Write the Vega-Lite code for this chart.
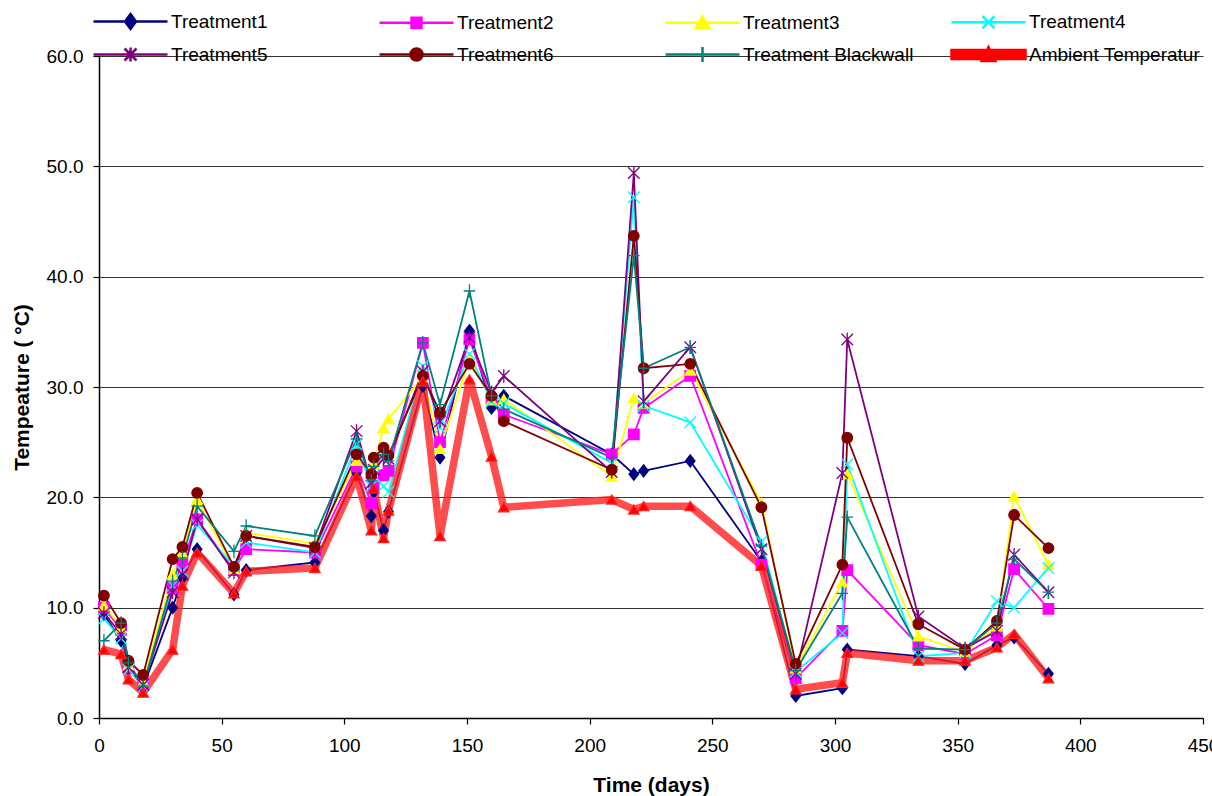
{
"$schema": "https://vega.github.io/schema/vega-lite/v6.json",
"width": 1104, "height": 662,
"autosize": {"type": "none"},
"padding": {"left": 99, "top": 56, "right": 9, "bottom": 78},
"background": "white",
"config": {
  "font": "Liberation Sans",
  "view": {"stroke": null},
  "axis": {"labelFont": "Liberation Sans", "titleFont": "Liberation Sans", "labelFontSize": 19, "titleFontSize": 21, "titleFontWeight": "bold", "labelColor": "#000", "titleColor": "#000", "domainColor": "#000", "tickColor": "#000", "domainWidth": 1.5, "tickSize": 6, "tickWidth": 1.2}
},
"data": {"values": [
{"day":2,"series":"Treatment1","temp":9.4},{"day":9,"series":"Treatment1","temp":7.0},{"day":12,"series":"Treatment1","temp":4.5},{"day":18,"series":"Treatment1","temp":2.8},{"day":30,"series":"Treatment1","temp":10.0},{"day":34,"series":"Treatment1","temp":12.7},{"day":40,"series":"Treatment1","temp":15.3},{"day":55,"series":"Treatment1","temp":11.2},{"day":60,"series":"Treatment1","temp":13.4},{"day":88,"series":"Treatment1","temp":14.1},{"day":105,"series":"Treatment1","temp":22.2},{"day":111,"series":"Treatment1","temp":18.3},{"day":112,"series":"Treatment1","temp":20.5},{"day":116,"series":"Treatment1","temp":17.0},{"day":118,"series":"Treatment1","temp":18.7},{"day":132,"series":"Treatment1","temp":30.1},{"day":139,"series":"Treatment1","temp":23.6},{"day":151,"series":"Treatment1","temp":35.1},{"day":160,"series":"Treatment1","temp":28.1},{"day":165,"series":"Treatment1","temp":29.2},{"day":209,"series":"Treatment1","temp":23.9},{"day":218,"series":"Treatment1","temp":22.1},{"day":222,"series":"Treatment1","temp":22.4},{"day":241,"series":"Treatment1","temp":23.3},{"day":270,"series":"Treatment1","temp":14.2},{"day":284,"series":"Treatment1","temp":2.0},{"day":303,"series":"Treatment1","temp":2.7},{"day":305,"series":"Treatment1","temp":6.2},{"day":334,"series":"Treatment1","temp":5.6},{"day":353,"series":"Treatment1","temp":4.9},{"day":366,"series":"Treatment1","temp":6.6},{"day":373,"series":"Treatment1","temp":7.3},{"day":387,"series":"Treatment1","temp":4.0},
{"day":2,"series":"Treatment2","temp":10.0},{"day":9,"series":"Treatment2","temp":8.0},{"day":12,"series":"Treatment2","temp":4.6},{"day":18,"series":"Treatment2","temp":3.1},{"day":30,"series":"Treatment2","temp":11.8},{"day":34,"series":"Treatment2","temp":14.0},{"day":40,"series":"Treatment2","temp":18.0},{"day":55,"series":"Treatment2","temp":13.4},{"day":60,"series":"Treatment2","temp":15.3},{"day":88,"series":"Treatment2","temp":15.0},{"day":105,"series":"Treatment2","temp":22.8},{"day":111,"series":"Treatment2","temp":19.5},{"day":112,"series":"Treatment2","temp":21.0},{"day":116,"series":"Treatment2","temp":22.0},{"day":118,"series":"Treatment2","temp":22.4},{"day":132,"series":"Treatment2","temp":34.0},{"day":139,"series":"Treatment2","temp":25.0},{"day":151,"series":"Treatment2","temp":34.3},{"day":160,"series":"Treatment2","temp":28.9},{"day":165,"series":"Treatment2","temp":27.5},{"day":209,"series":"Treatment2","temp":23.9},{"day":218,"series":"Treatment2","temp":25.7},{"day":222,"series":"Treatment2","temp":28.1},{"day":241,"series":"Treatment2","temp":31.0},{"day":270,"series":"Treatment2","temp":13.9},{"day":284,"series":"Treatment2","temp":3.6},{"day":303,"series":"Treatment2","temp":7.9},{"day":305,"series":"Treatment2","temp":13.4},{"day":334,"series":"Treatment2","temp":6.6},{"day":353,"series":"Treatment2","temp":5.8},{"day":366,"series":"Treatment2","temp":7.5},{"day":373,"series":"Treatment2","temp":13.5},{"day":387,"series":"Treatment2","temp":9.9},
{"day":2,"series":"Treatment3","temp":10.2},{"day":9,"series":"Treatment3","temp":8.2},{"day":12,"series":"Treatment3","temp":4.8},{"day":18,"series":"Treatment3","temp":3.3},{"day":30,"series":"Treatment3","temp":13.0},{"day":34,"series":"Treatment3","temp":14.9},{"day":40,"series":"Treatment3","temp":19.8},{"day":55,"series":"Treatment3","temp":13.5},{"day":60,"series":"Treatment3","temp":16.8},{"day":88,"series":"Treatment3","temp":15.8},{"day":105,"series":"Treatment3","temp":23.3},{"day":111,"series":"Treatment3","temp":22.0},{"day":112,"series":"Treatment3","temp":23.0},{"day":116,"series":"Treatment3","temp":26.3},{"day":118,"series":"Treatment3","temp":27.1},{"day":132,"series":"Treatment3","temp":30.9},{"day":139,"series":"Treatment3","temp":24.4},{"day":151,"series":"Treatment3","temp":32.5},{"day":160,"series":"Treatment3","temp":28.8},{"day":165,"series":"Treatment3","temp":28.9},{"day":209,"series":"Treatment3","temp":21.9},{"day":218,"series":"Treatment3","temp":29.0},{"day":222,"series":"Treatment3","temp":28.5},{"day":241,"series":"Treatment3","temp":31.5},{"day":270,"series":"Treatment3","temp":19.5},{"day":284,"series":"Treatment3","temp":4.5},{"day":303,"series":"Treatment3","temp":12.3},{"day":305,"series":"Treatment3","temp":22.1},{"day":334,"series":"Treatment3","temp":7.4},{"day":353,"series":"Treatment3","temp":6.0},{"day":366,"series":"Treatment3","temp":8.3},{"day":373,"series":"Treatment3","temp":20.1},{"day":387,"series":"Treatment3","temp":13.9},
{"day":2,"series":"Treatment4","temp":9.0},{"day":9,"series":"Treatment4","temp":7.2},{"day":12,"series":"Treatment4","temp":4.4},{"day":18,"series":"Treatment4","temp":2.9},{"day":30,"series":"Treatment4","temp":12.0},{"day":34,"series":"Treatment4","temp":13.3},{"day":40,"series":"Treatment4","temp":17.5},{"day":55,"series":"Treatment4","temp":13.8},{"day":60,"series":"Treatment4","temp":15.9},{"day":88,"series":"Treatment4","temp":15.0},{"day":105,"series":"Treatment4","temp":24.8},{"day":111,"series":"Treatment4","temp":21.0},{"day":112,"series":"Treatment4","temp":22.0},{"day":116,"series":"Treatment4","temp":21.0},{"day":118,"series":"Treatment4","temp":20.5},{"day":132,"series":"Treatment4","temp":31.9},{"day":139,"series":"Treatment4","temp":26.3},{"day":151,"series":"Treatment4","temp":33.0},{"day":160,"series":"Treatment4","temp":28.7},{"day":165,"series":"Treatment4","temp":28.5},{"day":209,"series":"Treatment4","temp":23.1},{"day":218,"series":"Treatment4","temp":47.2},{"day":222,"series":"Treatment4","temp":28.3},{"day":241,"series":"Treatment4","temp":26.8},{"day":270,"series":"Treatment4","temp":16.0},{"day":284,"series":"Treatment4","temp":4.2},{"day":303,"series":"Treatment4","temp":7.7},{"day":305,"series":"Treatment4","temp":23.0},{"day":334,"series":"Treatment4","temp":5.6},{"day":353,"series":"Treatment4","temp":5.9},{"day":366,"series":"Treatment4","temp":10.6},{"day":373,"series":"Treatment4","temp":10.0},{"day":387,"series":"Treatment4","temp":13.6},
{"day":2,"series":"Treatment5","temp":9.5},{"day":9,"series":"Treatment5","temp":7.6},{"day":12,"series":"Treatment5","temp":4.6},{"day":18,"series":"Treatment5","temp":3.0},{"day":30,"series":"Treatment5","temp":11.4},{"day":34,"series":"Treatment5","temp":13.0},{"day":40,"series":"Treatment5","temp":18.0},{"day":55,"series":"Treatment5","temp":13.2},{"day":60,"series":"Treatment5","temp":16.5},{"day":88,"series":"Treatment5","temp":15.4},{"day":105,"series":"Treatment5","temp":26.0},{"day":111,"series":"Treatment5","temp":21.3},{"day":112,"series":"Treatment5","temp":22.5},{"day":116,"series":"Treatment5","temp":23.5},{"day":118,"series":"Treatment5","temp":23.5},{"day":132,"series":"Treatment5","temp":31.4},{"day":139,"series":"Treatment5","temp":26.9},{"day":151,"series":"Treatment5","temp":34.5},{"day":160,"series":"Treatment5","temp":29.5},{"day":165,"series":"Treatment5","temp":31.0},{"day":209,"series":"Treatment5","temp":22.3},{"day":218,"series":"Treatment5","temp":49.4},{"day":222,"series":"Treatment5","temp":28.7},{"day":241,"series":"Treatment5","temp":33.6},{"day":270,"series":"Treatment5","temp":15.3},{"day":284,"series":"Treatment5","temp":4.0},{"day":303,"series":"Treatment5","temp":22.2},{"day":305,"series":"Treatment5","temp":34.3},{"day":334,"series":"Treatment5","temp":9.2},{"day":353,"series":"Treatment5","temp":6.3},{"day":366,"series":"Treatment5","temp":7.9},{"day":373,"series":"Treatment5","temp":14.8},{"day":387,"series":"Treatment5","temp":11.4},
{"day":2,"series":"Treatment6","temp":11.1},{"day":9,"series":"Treatment6","temp":8.6},{"day":12,"series":"Treatment6","temp":5.2},{"day":18,"series":"Treatment6","temp":3.9},{"day":30,"series":"Treatment6","temp":14.4},{"day":34,"series":"Treatment6","temp":15.5},{"day":40,"series":"Treatment6","temp":20.4},{"day":55,"series":"Treatment6","temp":13.7},{"day":60,"series":"Treatment6","temp":16.5},{"day":88,"series":"Treatment6","temp":15.5},{"day":105,"series":"Treatment6","temp":23.9},{"day":111,"series":"Treatment6","temp":22.1},{"day":112,"series":"Treatment6","temp":23.6},{"day":116,"series":"Treatment6","temp":24.5},{"day":118,"series":"Treatment6","temp":23.8},{"day":132,"series":"Treatment6","temp":31.0},{"day":139,"series":"Treatment6","temp":27.7},{"day":151,"series":"Treatment6","temp":32.1},{"day":160,"series":"Treatment6","temp":29.2},{"day":165,"series":"Treatment6","temp":26.9},{"day":209,"series":"Treatment6","temp":22.5},{"day":218,"series":"Treatment6","temp":43.7},{"day":222,"series":"Treatment6","temp":31.7},{"day":241,"series":"Treatment6","temp":32.1},{"day":270,"series":"Treatment6","temp":19.1},{"day":284,"series":"Treatment6","temp":4.9},{"day":303,"series":"Treatment6","temp":13.9},{"day":305,"series":"Treatment6","temp":25.4},{"day":334,"series":"Treatment6","temp":8.5},{"day":353,"series":"Treatment6","temp":6.2},{"day":366,"series":"Treatment6","temp":8.8},{"day":373,"series":"Treatment6","temp":18.4},{"day":387,"series":"Treatment6","temp":15.4},
{"day":2,"series":"Treatment Blackwall","temp":7.0},{"day":9,"series":"Treatment Blackwall","temp":8.6},{"day":12,"series":"Treatment Blackwall","temp":5.0},{"day":18,"series":"Treatment Blackwall","temp":2.9},{"day":30,"series":"Treatment Blackwall","temp":12.4},{"day":34,"series":"Treatment Blackwall","temp":14.5},{"day":40,"series":"Treatment Blackwall","temp":19.2},{"day":55,"series":"Treatment Blackwall","temp":15.1},{"day":60,"series":"Treatment Blackwall","temp":17.4},{"day":88,"series":"Treatment Blackwall","temp":16.5},{"day":105,"series":"Treatment Blackwall","temp":25.3},{"day":111,"series":"Treatment Blackwall","temp":21.5},{"day":112,"series":"Treatment Blackwall","temp":22.8},{"day":116,"series":"Treatment Blackwall","temp":23.9},{"day":118,"series":"Treatment Blackwall","temp":23.3},{"day":132,"series":"Treatment Blackwall","temp":34.0},{"day":139,"series":"Treatment Blackwall","temp":28.4},{"day":151,"series":"Treatment Blackwall","temp":38.7},{"day":160,"series":"Treatment Blackwall","temp":29.2},{"day":165,"series":"Treatment Blackwall","temp":28.0},{"day":209,"series":"Treatment Blackwall","temp":23.6},{"day":218,"series":"Treatment Blackwall","temp":41.9},{"day":222,"series":"Treatment Blackwall","temp":31.7},{"day":241,"series":"Treatment Blackwall","temp":33.6},{"day":270,"series":"Treatment Blackwall","temp":15.6},{"day":284,"series":"Treatment Blackwall","temp":4.3},{"day":303,"series":"Treatment Blackwall","temp":11.3},{"day":305,"series":"Treatment Blackwall","temp":18.2},{"day":334,"series":"Treatment Blackwall","temp":6.3},{"day":353,"series":"Treatment Blackwall","temp":6.2},{"day":366,"series":"Treatment Blackwall","temp":8.6},{"day":373,"series":"Treatment Blackwall","temp":14.4},{"day":387,"series":"Treatment Blackwall","temp":11.4},
{"day":2,"series":"Ambient Temperatur","temp":6.2},{"day":9,"series":"Ambient Temperatur","temp":5.8},{"day":12,"series":"Ambient Temperatur","temp":3.5},{"day":18,"series":"Ambient Temperatur","temp":2.3},{"day":30,"series":"Ambient Temperatur","temp":6.2},{"day":34,"series":"Ambient Temperatur","temp":12.0},{"day":40,"series":"Ambient Temperatur","temp":15.0},{"day":55,"series":"Ambient Temperatur","temp":11.3},{"day":60,"series":"Ambient Temperatur","temp":13.3},{"day":88,"series":"Ambient Temperatur","temp":13.6},{"day":105,"series":"Ambient Temperatur","temp":21.9},{"day":111,"series":"Ambient Temperatur","temp":17.0},{"day":112,"series":"Ambient Temperatur","temp":20.8},{"day":116,"series":"Ambient Temperatur","temp":16.3},{"day":118,"series":"Ambient Temperatur","temp":18.8},{"day":132,"series":"Ambient Temperatur","temp":30.5},{"day":139,"series":"Ambient Temperatur","temp":16.5},{"day":151,"series":"Ambient Temperatur","temp":30.7},{"day":160,"series":"Ambient Temperatur","temp":23.7},{"day":165,"series":"Ambient Temperatur","temp":19.1},{"day":209,"series":"Ambient Temperatur","temp":19.8},{"day":218,"series":"Ambient Temperatur","temp":18.9},{"day":222,"series":"Ambient Temperatur","temp":19.2},{"day":241,"series":"Ambient Temperatur","temp":19.2},{"day":270,"series":"Ambient Temperatur","temp":13.8},{"day":284,"series":"Ambient Temperatur","temp":2.6},{"day":303,"series":"Ambient Temperatur","temp":3.2},{"day":305,"series":"Ambient Temperatur","temp":5.9},{"day":334,"series":"Ambient Temperatur","temp":5.2},{"day":353,"series":"Ambient Temperatur","temp":5.2},{"day":366,"series":"Ambient Temperatur","temp":6.4},{"day":373,"series":"Ambient Temperatur","temp":7.6},{"day":387,"series":"Ambient Temperatur","temp":3.6}
]},
"encoding": {
  "x": {"field": "day", "type": "quantitative", "scale": {"domain": [0, 450], "nice": false, "zero": true}, "axis": {"values": [0,50,100,150,200,250,300,350,400,450], "grid": false, "title": "Time (days)", "labelPadding": 12, "titlePadding": 19, "labelFlush": false}},
  "y": {"field": "temp", "type": "quantitative", "scale": {"domain": [0, 60], "nice": false}, "axis": {"values": [0,10,20,30,40,50,60], "format": ".1f", "grid": true, "gridColor": "#333333", "gridWidth": 1.2, "title": "Tempeature ( °C)", "labelPadding": 10, "titlePadding": 14}}
},
"layer": [
  {"transform": [{"filter": "datum.series !== 'Ambient Temperatur'"}],
   "mark": {"type": "line", "strokeWidth": 1.8},
   "encoding": {"stroke": {"field": "series", "type": "nominal", "legend": null,
     "scale": {"domain": ["Ambient Temperatur","Treatment Blackwall","Treatment6","Treatment5","Treatment4","Treatment3","Treatment2","Treatment1"], "range": ["#FF2020","#008080","#800000","#800080","#00FFFF","#FFFF00","#FF00FF","#000080"]}}}},
  {"transform": [{"filter": "datum.series === 'Ambient Temperatur'"}],
   "mark": {"type": "line", "strokeWidth": 7.5, "strokeOpacity": 0.8},
   "encoding": {"stroke": {"field": "series", "type": "nominal", "legend": null}}},
  {"mark": {"type": "point", "filled": true, "opacity": 1, "size": 110, "strokeWidth": 1.3},
   "encoding": {
     "stroke": {"field": "series", "type": "nominal", "legend": null},
     "shape": {"field": "series", "type": "nominal", "legend": null,
       "scale": {"domain": ["Ambient Temperatur","Treatment Blackwall","Treatment6","Treatment5","Treatment4","Treatment3","Treatment2","Treatment1"],
         "range": ["triangle-up","M-1.1,0H1.1M0,-1.3V1.3","circle","M-1.1,-1.1L1.1,1.1M-1.1,1.1L1.1,-1.1M0,-1.3V1.3","M-1.1,-1.1L1.1,1.1M-1.1,1.1L1.1,-1.1","triangle-up","square","M0,-1.15L0.9,0L0,1.15L-0.9,0Z"]}},
     "fill": {"field": "series", "type": "nominal",
       "scale": {"domain": ["Treatment1","Treatment2","Treatment3","Treatment4","Treatment5","Treatment6","Treatment Blackwall","Ambient Temperatur"], "range": ["#000080","#FF00FF","#FFFF00","#00FFFF","#800080","#800000","#008080","#FF0000"]},
       "legend": {"orient": "none", "legendX": 22, "legendY": -44, "direction": "horizontal", "columns": 4, "title": null, "symbolSize": 100, "labelFont": "Liberation Sans", "labelFontSize": 19, "labelColor": "#000", "labelOffset": 31, "columnPadding": 31, "rowPadding": 8, "gridAlign": "all", "labelLimit": 400, "padding": 0, "symbolOpacity": 1,
         "encode": {"symbols": {
           "update": {
             "shape": [
               {"test": "datum.value === 'Treatment1'", "value": "M-7.4,0H7.4M0,-1.5L1.1,0L0,1.5L-1.1,0Z"},
               {"test": "datum.value === 'Treatment2'", "value": "M-7.4,0H7.4M-1,-1H1V1H-1Z"},
               {"test": "datum.value === 'Treatment3'", "value": "M-7.4,0H7.4M0,-1.3L1.3,1L-1.3,1Z"},
               {"test": "datum.value === 'Treatment4'", "value": "M-7.4,0H7.4M-1.2,-1.2L1.2,1.2M-1.2,1.2L1.2,-1.2"},
               {"test": "datum.value === 'Treatment5'", "value": "M-7.4,0H7.4M-1.2,-1.2L1.2,1.2M-1.2,1.2L1.2,-1.2M0,-1.4V1.4"},
               {"test": "datum.value === 'Treatment6'", "value": "M-7.4,0H7.4M-1.2,0A1.2,1.2 0 1,0 1.2,0A1.2,1.2 0 1,0 -1.2,0Z"},
               {"test": "datum.value === 'Treatment Blackwall'", "value": "M-7.4,0H7.4M-1.3,0H1.3M0,-1.5V1.5"},
               {"value": "M-7.4,-0.9H7.4V0.9H-7.4ZM0,-1.5L1.4,1.3L-1.4,1.3Z"}
             ],
             "stroke": [
               {"test": "datum.value === 'Treatment1'", "value": "#000080"},
               {"test": "datum.value === 'Treatment2'", "value": "#FF00FF"},
               {"test": "datum.value === 'Treatment3'", "value": "#FFFF00"},
               {"test": "datum.value === 'Treatment4'", "value": "#00FFFF"},
               {"test": "datum.value === 'Treatment5'", "value": "#800080"},
               {"test": "datum.value === 'Treatment6'", "value": "#800000"},
               {"test": "datum.value === 'Treatment Blackwall'", "value": "#008080"},
               {"value": "#FF0000"}
             ],
             "strokeWidth": {"value": 2.5}
           }
         }}}}
   }}
]
}
